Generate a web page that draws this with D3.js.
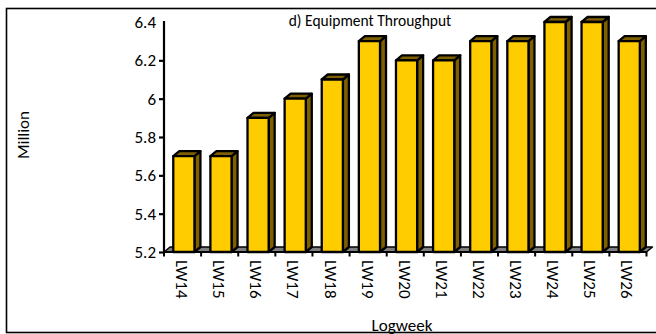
<!DOCTYPE html>
<html>
<head>
<meta charset="utf-8">
<script src="https://cdn.jsdelivr.net/npm/d3@7/dist/d3.min.js"></script>
<style>
  html, body { margin: 0; padding: 0; background: #ffffff; }
  svg { display: block; font-family: Carlito, Calibri, Lato, "Open Sans", sans-serif; }
</style>
</head>
<body>
<svg id="chart" width="656" height="334"></svg>
<script>
// Weekly equipment throughput, in millions
const categories = ["LW14", "LW15", "LW16", "LW17", "LW18", "LW19", "LW20",
                    "LW21", "LW22", "LW23", "LW24", "LW25", "LW26"];
const throughput = [5.7, 5.7, 5.9, 6.0, 6.1, 6.3, 6.2, 6.2, 6.3, 6.3, 6.4, 6.4, 6.3];
const yTicks = [5.2, 5.4, 5.6, 5.8, 6.0, 6.2, 6.4];
const yTickLabels = ["5.2", "5.4", "5.6", "5.8", "6", "6.2", "6.4"];
const titleText = "d) Equipment Throughput";
const yTitle = "Million";
const xTitle = "Logweek";

(function () {
const svg = d3.select("#chart");

// Plot frame
const plotLeft = 164, plotRight = 646.5, plotTop = 22, floorY = 252;
const depthX = 6, depthY = -5;   // oblique offset for the 3D look

const x = d3.scaleBand().domain(categories).range([plotLeft, plotRight]).padding(0);
const y = d3.scaleLinear().domain([5.2, 6.4]).range([floorY, plotTop]);

// Outer chart border
svg.append("rect")
  .attr("x", 6.5).attr("y", 8.5)
  .attr("width", 700).attr("height", 324)
  .attr("fill", "none").attr("stroke", "#000").attr("stroke-width", 1.6);

// Floor (thin parallelogram under the columns)
svg.append("path")
  .attr("d", `M${plotLeft},${floorY} L${plotRight},${floorY} L${plotRight + depthX},${floorY + depthY} L${plotLeft + depthX},${floorY + depthY} Z`)
  .attr("fill", "#7f7f7f").attr("stroke", "#000").attr("stroke-width", 1.4)
  .attr("stroke-linejoin", "round");

// Columns: side, top and front faces
const bw = x.bandwidth();
const faceOff = bw * 0.25, faceW = bw * 0.57;
const bars = svg.append("g").selectAll("g").data(categories).join("g");

bars.each(function (c, i) {
  const g = d3.select(this);
  const x0 = x(c) + faceOff, x1 = x0 + faceW;
  const yt = y(throughput[i]);
  g.append("path") // side
    .attr("d", `M${x1},${floorY} L${x1 + depthX},${floorY + depthY} L${x1 + depthX},${yt + depthY} L${x1},${yt} Z`)
    .attr("fill", "#7f6000").attr("stroke", "#000").attr("stroke-width", 2.3)
    .attr("stroke-linejoin", "round");
  g.append("path") // top
    .attr("d", `M${x0},${yt} L${x1},${yt} L${x1 + depthX},${yt + depthY} L${x0 + depthX},${yt + depthY} Z`)
    .attr("fill", "#7f6000").attr("stroke", "#000").attr("stroke-width", 2.3)
    .attr("stroke-linejoin", "round");
  g.append("rect") // front
    .attr("x", x0).attr("y", yt)
    .attr("width", faceW).attr("height", floorY - yt)
    .attr("fill", "#ffcc00").attr("stroke", "#000").attr("stroke-width", 2.3)
    .attr("stroke-linejoin", "round");
});

// Value axis
const yAxis = d3.axisLeft(y)
  .tickValues(yTicks)
  .tickFormat((d, i) => yTickLabels[i])
  .tickSize(5).tickPadding(3);
const yg = svg.append("g").attr("transform", `translate(${plotLeft},0)`).call(yAxis);
yg.select(".domain").attr("stroke", "#000").attr("stroke-width", 2.2).attr("d", `M0,${plotTop - 1}V${floorY}`);
yg.selectAll(".tick line").attr("stroke", "#000").attr("stroke-width", 2.2)
  .filter(d => d === 6.4).remove();
yg.selectAll(".tick text").attr("fill", "#000").attr("font-size", 17)
  .attr("font-family", "Carlito, Calibri, Lato, sans-serif");

// Category axis with vertical labels
const xAxis = d3.axisBottom(x).tickSize(0).tickFormat(d => d);
const xg = svg.append("g").attr("transform", `translate(0,${floorY})`).call(xAxis);
xg.select(".domain").attr("stroke", "#000").attr("stroke-width", 2).attr("d", `M${plotLeft},0H${plotRight}`);
xg.selectAll(".tick text")
  .attr("font-size", 17).attr("fill", "#000")
  .attr("font-family", "Carlito, Calibri, Lato, sans-serif")
  .attr("text-anchor", "start")
  .attr("dy", null).attr("y", null)
  .attr("dominant-baseline", "central")
  .attr("transform", "translate(-1,8) rotate(90)");

// Tick marks on category boundaries
const bounds = categories.map(c => x(c)).concat([plotRight]);
svg.append("g").selectAll("line").data(bounds).join("line")
  .attr("x1", d => d).attr("x2", d => d)
  .attr("y1", floorY).attr("y2", floorY + 4.5)
  .attr("stroke", "#000").attr("stroke-width", 2);

// Titles
svg.append("text")
  .attr("x", 370).attr("y", 26)
  .attr("text-anchor", "middle").attr("font-size", 15.5).attr("fill", "#000")
  .text(titleText);

svg.append("text")
  .attr("transform", "translate(29,135) rotate(-90)")
  .attr("text-anchor", "middle").attr("font-size", 17).attr("fill", "#000")
  .text(yTitle);

svg.append("text")
  .attr("x", 402).attr("y", 331)
  .attr("text-anchor", "middle").attr("font-size", 17).attr("fill", "#000")
  .text(xTitle);
})();
</script>
</body>
</html>
